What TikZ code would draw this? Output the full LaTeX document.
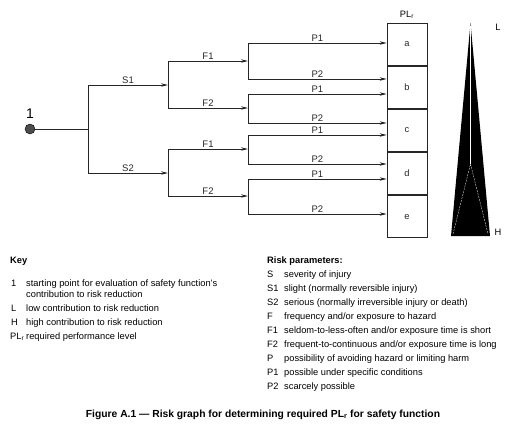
\documentclass[tikz,border=0pt]{standalone}
\usepackage{fontspec}
\setmainfont{Liberation Sans}
\usetikzlibrary{positioning, arrows.meta}

\newcommand{\plr}{PL\textsubscript{r}}

\begin{document}
\begin{tikzpicture}[
    x=1pt, y=-1pt,
    >=Stealth,
    branch/.style={line width=0.7pt, color=black!85},
    arrow/.style={-{Stealth[length=7pt, width=3.4pt]}, line width=0.7pt, color=black!85},
    lbl/.style={font=\fontsize{9.5}{11}\selectfont, above, inner sep=0.8pt},
    cell/.style={rectangle, draw, line width=0.7pt, color=black!85,
                 minimum width=40pt, minimum height=42.4pt, inner sep=0pt,
                 font=\fontsize{9.3}{11}\selectfont},
    dot/.style={circle, draw, fill=black!70, minimum size=10pt, inner sep=0pt},
    keyhead/.style={font=\bfseries\fontsize{9.3}{11}\selectfont, anchor=base west, inner sep=0pt},
    keytext/.style={font=\fontsize{9.3}{11}\selectfont, anchor=base west, inner sep=0pt}
]
  \useasboundingbox (0,0) rectangle (516,429);

  % --- PL_r column ---
  \node[cell] (a) at (407,44.2) {a};
  \node[cell, below=0pt of a] (b) {b};
  \node[cell, below=0pt of b] (c) {c};
  \node[cell, below=0pt of c] (d) {d};
  \node[cell, below=0pt of d] (e) {e};
  \node[font=\fontsize{9.3}{11}\selectfont, above=0.5pt of a] (plr) {\plr};

  % --- start and S branches ---
  \node[dot] (start) at (30,129) {};
  \node[font=\fontsize{14}{16}\selectfont, above=2pt of start] (one) {1};
  \coordinate (s) at (88,129);
  \coordinate (s1) at (88,85);
  \coordinate (s2) at (88,173);
  \coordinate (j1) at (168,85);
  \coordinate (j2) at (168,173);

  \draw[branch] (start) -- (s);
  \draw[branch] (s1) -- (s2);
  \draw[arrow] (s1) -- node[lbl] {S1} (j1);
  \draw[arrow] (s2) -- node[lbl] {S2} (j2);

  % --- F branches ---
  \coordinate (j11) at (168,61);
  \coordinate (j12) at (168,108);
  \coordinate (j21) at (168,149);
  \coordinate (j22) at (168,196);
  \coordinate (k11) at (248,61);
  \coordinate (k12) at (248,108);
  \coordinate (k21) at (248,149);
  \coordinate (k22) at (248,196);

  \draw[branch] (j11) -- (j12);
  \draw[branch] (j21) -- (j22);
  \draw[arrow] (j11) -- node[lbl] {F1} (k11);
  \draw[arrow] (j12) -- node[lbl] {F2} (k12);
  \draw[arrow] (j21) -- node[lbl] {F1} (k21);
  \draw[arrow] (j22) -- node[lbl] {F2} (k22);

  % --- P branches ---
  \coordinate (p111) at (248,43);  \coordinate (p112) at (248,79);
  \coordinate (p121) at (248,94);  \coordinate (p122) at (248,123);
  \coordinate (p211) at (248,135); \coordinate (p212) at (248,164);
  \coordinate (p221) at (248,179); \coordinate (p222) at (248,214);

  \draw[branch] (p111) -- (p112);
  \draw[branch] (p121) -- (p122);
  \draw[branch] (p211) -- (p212);
  \draw[branch] (p221) -- (p222);
  \draw[arrow] (p111) -- node[lbl] {P1} (p111 -| a.west);
  \draw[arrow] (p112) -- node[lbl] {P2} (p112 -| b.west);
  \draw[arrow] (p121) -- node[lbl] {P1} (p121 -| b.west);
  \draw[arrow] (p122) -- node[lbl] {P2} (p122 -| c.west);
  \draw[arrow] (p211) -- node[lbl] {P1} (p211 -| c.west);
  \draw[arrow] (p212) -- node[lbl] {P2} (p212 -| d.west);
  \draw[arrow] (p221) -- node[lbl] {P1} (p221 -| d.west);
  \draw[arrow] (p222) -- node[lbl] {P2} (p222 -| e.west);

  % --- L/H wedge ---
  \fill (470.5,23) -- (490,236) -- (451,236) -- cycle;
  \draw[white, line width=0.4pt] (470.5,26) -- (470.5,164);
  \draw[white, line width=0.3pt, dashed, dash pattern=on 2pt off 1pt]
    (453,234) -- (470.5,164) -- (488,234);
  \node[font=\fontsize{9.3}{11}\selectfont] (lo) at (498,27) {L};
  \node[font=\fontsize{9.3}{11}\selectfont] (hi) at (498,232) {H};

  % --- Key ---
  \node[keyhead] (keyH) at (10,263) {Key};
  \node[keytext] at (11,286) {1};
  \node[keytext] at (26,286) {starting point for evaluation of safety function’s};
  \node[keytext] at (26,297) {contribution to risk reduction};
  \node[keytext] at (11,311) {L};
  \node[keytext] at (26,311) {low contribution to risk reduction};
  \node[keytext] at (11,325) {H};
  \node[keytext] at (26,325) {high contribution to risk reduction};
  \node[keytext] at (10,339) {\plr};
  \node[keytext] at (26,339) {required performance level};

  % --- Risk parameters ---
  \node[keyhead] (riskH) at (267,263) {Risk parameters:};
  \node[keytext] at (267,277) {S};
  \node[keytext] at (284,277) {severity of injury};
  \node[keytext] at (267,291) {S1};
  \node[keytext] at (284,291) {slight (normally reversible injury)};
  \node[keytext] at (267,305) {S2};
  \node[keytext] at (284,305) {serious (normally irreversible injury or death)};
  \node[keytext] at (267,319) {F};
  \node[keytext] at (284,319) {frequency and/or exposure to hazard};
  \node[keytext] at (267,333) {F1};
  \node[keytext] at (284,333) {seldom-to-less-often and/or exposure time is short};
  \node[keytext] at (267,347) {F2};
  \node[keytext] at (284,347) {frequent-to-continuous and/or exposure time is long};
  \node[keytext] at (267,361) {P};
  \node[keytext] at (284,361) {possibility of avoiding hazard or limiting harm};
  \node[keytext] at (267,375) {P1};
  \node[keytext] at (284,375) {possible under specific conditions};
  \node[keytext] at (267,389) {P2};
  \node[keytext] at (284,389) {scarcely possible};

  % Caption
  \node[font=\bfseries\fontsize{10.3}{12}\selectfont, anchor=base] (cap) at (263,417)
    {Figure A.1 — Risk graph for determining required \plr{} for safety function};
\end{tikzpicture}
\end{document}
